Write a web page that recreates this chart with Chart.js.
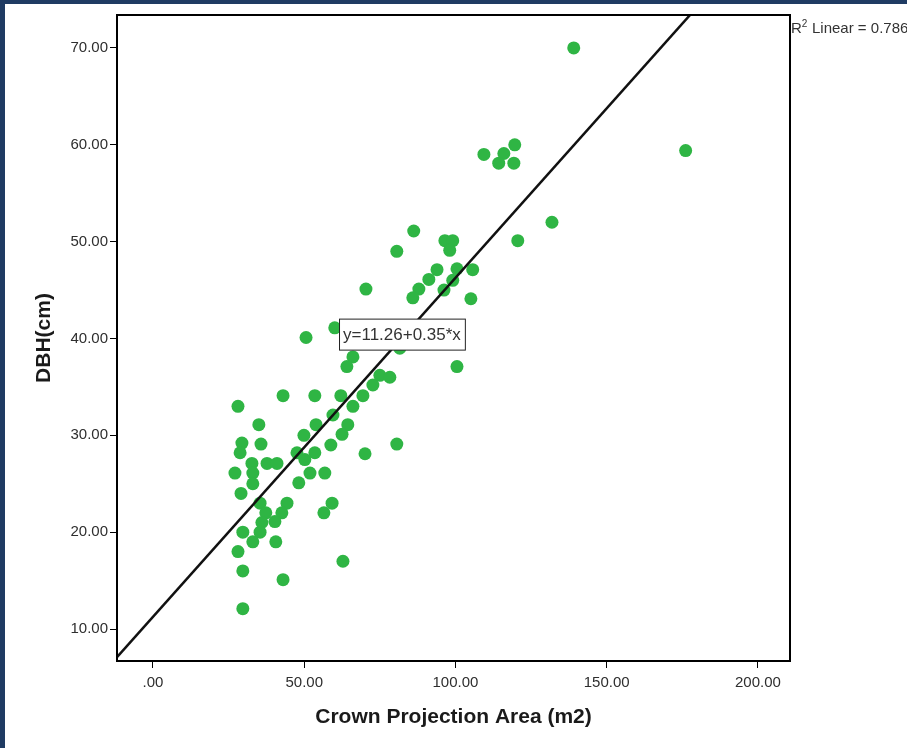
<!DOCTYPE html>
<html lang="en">
<head>
    <meta charset="UTF-8">
    <title>DBH vs Crown Projection Area</title>
    <style>
        body { margin: 0; background: #fff; }
        .quadro { position: relative; width: 907px; height: 748px; overflow: hidden; }
        .quadro canvas { position: absolute; left: 0; top: 0; }
        .borda-top { position: absolute; left: 0; top: 0; width: 907px; height: 4px; background: #1f3b63; }
        .borda-left { position: absolute; left: 0; top: 0; width: 5px; height: 748px; background: #1f3b63; }
    </style>
</head>
<body>
    <div class="quadro">
        <canvas id="myChart" width="907" height="748"></canvas>
        <div class="borda-top"></div>
        <div class="borda-left"></div>
    </div>
</body>
</html>
<script src="https://cdn.jsdelivr.net/npm/chart.js"></script>

<script>

    // Crown projection area (m2) and DBH (cm)
    var areaM2 = [139.1, 176.1, 131.9, 120.6, 109.4, 116.0, 119.6, 114.3, 119.3,
        86.2, 96.5, 99.1, 98.1, 80.6, 93.9, 100.5, 105.7, 91.2, 99.1, 87.9, 96.2, 85.9, 105.1, 100.5,
        70.4, 50.6, 60.1, 81.6, 66.1, 64.1, 75.0, 78.3, 72.7, 53.5, 62.1, 69.4, 59.5, 66.1,
        53.9, 64.4, 62.5, 49.9, 58.8, 80.6, 70.1, 53.5, 50.2, 51.9, 56.8, 59.2, 56.5, 62.8, 48.2,
        28.1, 43.0, 35.0, 29.4, 35.7, 28.8, 47.6, 32.7, 37.7, 41.0, 27.1, 33.0, 33.0,
        29.1, 35.4, 44.3, 37.3, 42.6, 36.0, 40.3, 29.7, 35.4, 33.0, 40.6, 28.1, 29.7, 43.0, 29.7];
    var dbhCm = [70.0, 59.4, 52.0, 50.1, 59.0, 59.1, 60.0, 58.1, 58.1,
        51.1, 50.1, 50.1, 49.1, 49.0, 47.1, 47.2, 47.1, 46.1, 46.0, 45.1, 45.0, 44.2, 44.1, 37.1,
        45.1, 40.1, 41.1, 39.0, 38.1, 37.1, 36.2, 36.0, 35.2, 34.1, 34.1, 34.1, 32.1, 33.0,
        31.1, 31.1, 30.1, 30.0, 29.0, 29.1, 28.1, 28.2, 27.5, 26.1, 26.1, 23.0, 22.0, 17.0, 25.1,
        33.0, 34.1, 31.1, 29.2, 29.1, 28.2, 28.2, 27.1, 27.1, 27.1, 26.1, 26.1, 25.0,
        24.0, 23.0, 23.0, 22.0, 22.0, 21.0, 21.1, 20.0, 20.0, 19.0, 19.0, 18.0, 16.0, 15.1, 12.1];

    var xTicks = [0, 50, 100, 150, 200];
    var xTickLabels = ['.00', '50.00', '100.00', '150.00', '200.00'];
    var yTicks = [10, 20, 30, 40, 50, 60, 70];
    var yTickLabels = ['10.00', '20.00', '30.00', '40.00', '50.00', '60.00', '70.00'];

    // fit line from the picture: y = 11.26 + 0.35*x, R2 = 0.786
    var intercept = 11.26;
    var slope = 0.35;
    var fitLabel = 'y=11.26+0.35*x';
    var r2Text = '0.786';

    var xMin = -11.9, xMax = 210.6;
    var yMin = 6.7, yMax = 73.4;

    var pontos = [];
    for (var i = 0; i < areaM2.length; i++) {
        pontos.push({ x: areaM2[i], y: dbhCm[i] });
    }
    var linha = [
        { x: xMin, y: intercept + slope * xMin },
        { x: xMax, y: intercept + slope * xMax }
    ];

    var extras = {
        id: 'extras',
        afterDatasetsDraw: function (chart) {
            var ctx = chart.ctx;
            var a = chart.chartArea;
            var sx = chart.scales.x, sy = chart.scales.y;
            ctx.save();
            // plot frame
            ctx.strokeStyle = '#000';
            ctx.lineWidth = 2;
            ctx.strokeRect(a.left, a.top, a.right - a.left, a.bottom - a.top);

            // equation box
            ctx.font = '17px "Liberation Sans", Arial, sans-serif';
            var bx = sx.getPixelForValue(61.5);
            var by = sy.getPixelForValue(40.4);
            var w = ctx.measureText(fitLabel).width + 8;
            ctx.fillStyle = '#fff';
            ctx.fillRect(bx, by - 15.5, w, 31);
            ctx.lineWidth = 1;
            ctx.strokeStyle = '#222';
            ctx.strokeRect(bx + 0.5, by - 15.5, w, 31);
            ctx.fillStyle = '#333';
            ctx.textBaseline = 'middle';
            ctx.fillText(fitLabel, bx + 4, by + 1);

            // R2 note to the right of the plot
            var rx = a.right + 1, ry = 29;
            ctx.font = '15px "Liberation Sans", Arial, sans-serif';
            ctx.textBaseline = 'middle';
            ctx.fillText('R', rx, ry);
            var rw = ctx.measureText('R').width;
            ctx.font = '10px "Liberation Sans", Arial, sans-serif';
            ctx.fillText('2', rx + rw, ry - 5);
            ctx.font = '15px "Liberation Sans", Arial, sans-serif';
            ctx.fillText(' Linear = ' + r2Text, rx + rw + 6, ry);
            ctx.restore();
        }
    };

    function criarGrafico() {
        const ctx = document.getElementById('myChart');

        new Chart(ctx, {
            type: 'scatter',
            data: {
                datasets: [{
                    type: 'line',
                    data: linha,
                    borderColor: '#111',
                    borderWidth: 2.5,
                    pointRadius: 0,
                    fill: false
                }, {
                    data: pontos,
                    backgroundColor: '#2fb544',
                    borderWidth: 0,
                    pointRadius: 6.5
                }]
            },
            options: {
                responsive: false,
                animation: false,
                layout: { padding: { top: 15, right: 117, left: 0, bottom: 0 } },
                plugins: { legend: { display: false }, tooltip: { enabled: false } },
                scales: {
                    x: {
                        type: 'linear',
                        min: xMin,
                        max: xMax,
                        afterBuildTicks: function (s) { s.ticks = xTicks.map(function (v) { return { value: v }; }); },
                        afterFit: function (s) { s.height = 87; },
                        ticks: {
                            padding: 6,
                            color: '#2e2e2e',
                            font: { family: '"Liberation Sans", Arial', size: 15 },
                            callback: function (v) { return xTickLabels[xTicks.indexOf(v)]; }
                        },
                        grid: { drawOnChartArea: false, tickLength: 7, color: '#000' },
                        border: { display: false },
                        title: {
                            display: true,
                            text: 'Crown Projection Area (m2)',
                            color: '#1a1a1a',
                            padding: { top: 0, bottom: 18 },
                            font: { family: '"Liberation Sans", Arial', size: 21, weight: 'bold' }
                        }
                    },
                    y: {
                        min: yMin,
                        max: yMax,
                        afterBuildTicks: function (s) { s.ticks = yTicks.map(function (v) { return { value: v }; }); },
                        afterFit: function (s) { s.width = 117; },
                        ticks: {
                            padding: 2,
                            color: '#2e2e2e',
                            font: { family: '"Liberation Sans", Arial', size: 15 },
                            callback: function (v) { return yTickLabels[yTicks.indexOf(v)]; }
                        },
                        grid: { drawOnChartArea: false, tickLength: 7, color: '#000' },
                        border: { display: false },
                        title: {
                            display: true,
                            text: 'DBH(cm)',
                            color: '#1a1a1a',
                            padding: { top: 32, bottom: 0 },
                            font: { family: '"Liberation Sans", Arial', size: 21, weight: 'bold' }
                        }
                    }
                }
            },
            plugins: [extras]
        });
    }

    criarGrafico()
</script>
